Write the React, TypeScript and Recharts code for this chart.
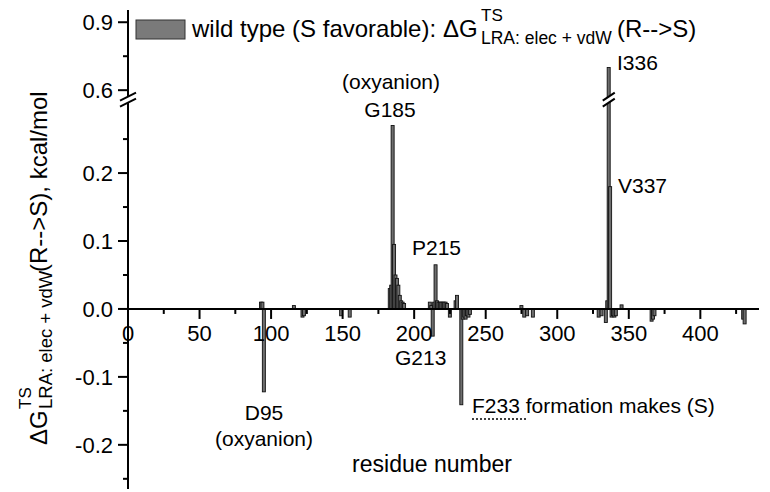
import { Bar, BarChart, Customized, ReferenceDot, ReferenceLine, XAxis, YAxis } from 'recharts';

// residue numbers with a non-zero contribution
const residues = [
    93, 94, 95, 116, 122, 123, 149, 155,
    183, 184, 185, 186, 187, 188, 189, 190, 191, 192, 193,
    211, 212, 213, 214, 215, 216, 217, 218, 219, 220, 221, 222, 223, 225, 229, 230,
    233, 234, 235, 236, 237, 238, 239, 275, 277, 279, 283,
    329, 331, 334, 335, 336, 337, 338, 339, 340, 341, 345, 366, 367, 368, 430, 431,
];

// dG (R-->S), kcal/mol
const dG = [
    0.01, 0.01, -0.122, 0.005, -0.012, -0.01, -0.01, -0.012,
    0.03, 0.035, 0.27, 0.095, 0.05, 0.045, 0.035, 0.02, 0.012, 0.01, 0.008,
    0.01, 0.005, -0.04, 0.01, 0.065, 0.012, 0.01, 0.01, 0.01, 0.01, 0.01, 0.01, 0.008, -0.012, 0.012, 0.02,
    -0.141, -0.015, -0.012, -0.015, -0.01, -0.012, -0.008, 0.005, -0.012, -0.01, -0.012,
    -0.012, -0.01, -0.02, 0.012, 0.7, 0.18, -0.012, -0.01, -0.012, -0.01, 0.006, -0.018, -0.015, -0.01, -0.015, -0.022,
];

const xTicks = [0, 25, 50, 75, 100, 125, 150, 175, 200, 225, 250, 275, 300, 325, 350, 375, 400, 425];
const yTicksLow = [-0.25, -0.2, -0.15, -0.1, -0.05, 0, 0.05, 0.1, 0.15, 0.2, 0.25];
const yTicksHigh = [0.6, 0.75, 0.9];
const yLabels = [-0.2, -0.1, 0, 0.1, 0.2, 0.6, 0.9];

// broken axis: 0.3 .. 0.6 is cut out, upper part squeezed 3x
const BREAK_LO = 0.3;
const BREAK_HI = 0.6;
const HIGH_BASE = 0.322;
const HIGH_SCALE = 1 / 3;
const BREAK_MARK = 0.308;
const toAxis = (v: number) => (v <= BREAK_LO ? v : HIGH_BASE + (v - BREAK_HI) * HIGH_SCALE);
const fromAxis = (t: number) => (t <= BREAK_LO + 0.001 ? t : BREAK_HI + (t - HIGH_BASE) / HIGH_SCALE);

const W = 770;
const H = 492;
const MARGIN = { top: 10, right: 11, bottom: 0, left: 0 };
const Y_W = 128;
const X_H = 3;
const Y_MIN = -0.265;
const Y_MAX = 0.44;
const PLOT_H = H - MARGIN.top - MARGIN.bottom - X_H;
const X_SHIFT = ((0 - Y_MIN) / (Y_MAX - Y_MIN)) * PLOT_H;

const FONT = '"Liberation Sans", Arial, sans-serif';

const data = residues.map((r, i) => ({ residue: r, value: dG[i], plotted: toAxis(dG[i]) }));
const yTicks = [...yTicksLow, ...yTicksHigh.map(toAxis)];

const isLabel = (t: number) => yLabels.some((v) => Math.abs(toAxis(v) - t) < 1e-6);

const YTick = ({ x, y, payload }: any) => {
    const major = isLabel(payload.value);
    return (
        <g>
            <line x1={x} x2={x - (major ? 10 : 5)} y1={y} y2={y} stroke="#000" strokeWidth={2} />
            {major && (
                <text x={x - 15} y={y} dy="0.36em" textAnchor="end" fontSize={22} fontFamily={FONT} fill="#000">
                    {fromAxis(payload.value).toFixed(1)}
                </text>
            )}
        </g>
    );
};

const XTick = ({ x, y, payload }: any) => {
    const yy = y - X_SHIFT;
    const major = payload.value % 50 === 0;
    return (
        <g>
            <line x1={x} x2={x} y1={yy} y2={yy + (major ? 10 : 5)} stroke="#000" strokeWidth={2} />
            {major && (
                <text x={x} y={yy + 32} textAnchor="middle" fontSize={22} fontFamily={FONT} fill="#000">
                    {payload.value}
                </text>
            )}
        </g>
    );
};

const BarShape = ({ x, y, width, height }: any) => {
    const top = Math.min(y, y + height);
    const h = Math.abs(height);
    const cx = x + width / 2;
    return <rect x={cx - 1.5} y={top} width={3} height={h} fill="#6e6e6e" stroke="#111" strokeWidth={0.9} />;
};

const BreakMark = (half: number) => ({ cx, cy }: any) => (
    <g>
        <polygon
            points={`${cx - half},${cy + 1} ${cx + half},${cy - 7} ${cx + half},${cy - 1} ${cx - half},${cy + 7}`}
            fill="#fff"
        />
        <line x1={cx - half} y1={cy + 1} x2={cx + half} y2={cy - 7} stroke="#000" strokeWidth={2} />
        <line x1={cx - half} y1={cy + 7} x2={cx + half} y2={cy - 1} stroke="#000" strokeWidth={2} />
    </g>
);

const Annotations = () => (
    <g fontFamily={FONT} fill="#000">
        {/* legend */}
        <rect x={136} y={20} width={49} height={19} fill="#7a7a7a" stroke="#333" strokeWidth={1} />
        <text x={192} y={37} fontSize={24}>wild type (S favorable):</text>
        <text x={443} y={37} fontSize={24}>ΔG</text>
        <text x={481} y={21} fontSize={17}>TS</text>
        <text x={481} y={44} fontSize={17.5}>LRA: elec + vdW</text>
        <text x={617} y={37} fontSize={24}>(R--&gt;S)</text>

        {/* y axis title */}
        <g transform="translate(47, 0) rotate(-90)">
            <text x={-445} y={0} fontSize={24}>ΔG</text>
            <text x={-409} y={-16} fontSize={17}>TS</text>
            <text x={-409} y={5} fontSize={18.5}>LRA: elec + vdW</text>
            <text x={-272} y={0} fontSize={24}>(R--&gt;S), kcal/mol</text>
        </g>

        {/* x axis title */}
        <text x={432} y={472} fontSize={23} textAnchor="middle">residue number</text>

        {/* residue labels */}
        <text x={391} y={89} fontSize={21} textAnchor="middle">(oxyanion)</text>
        <text x={390} y={117} fontSize={21} textAnchor="middle">G185</text>
        <text x={617} y={70} fontSize={21}>I336</text>
        <text x={618} y={193} fontSize={21}>V337</text>
        <text x={412} y={255} fontSize={21}>P215</text>
        <text x={395} y={365} fontSize={21}>G213</text>
        <text x={264} y={420} fontSize={21} textAnchor="middle">D95</text>
        <text x={264} y={446} fontSize={21} textAnchor="middle">(oxyanion)</text>
        <text x={472} y={413} fontSize={21}>F233 formation makes (S)</text>
        <line x1={472} x2={527} y1={419} y2={419} stroke="#000" strokeWidth={1.5} strokeDasharray="2 2" />
    </g>
);

const App = () => {
    return (
        <div style={{ position: 'absolute', left: 0, top: 0, width: W, height: H, background: '#fff' }}>
            <BarChart width={W} height={H} data={data} margin={MARGIN}>
                <XAxis
                    dataKey="residue"
                    type="number"
                    domain={[0, 441]}
                    allowDataOverflow
                    ticks={xTicks}
                    interval={0}
                    axisLine={false}
                    tickLine={false}
                    tickSize={0}
                    tickMargin={0}
                    height={X_H}
                    tick={XTick}
                />
                <YAxis
                    type="number"
                    domain={[Y_MIN, Y_MAX]}
                    allowDataOverflow
                    ticks={yTicks}
                    interval={0}
                    width={Y_W}
                    axisLine={{ stroke: '#000', strokeWidth: 2 }}
                    tickLine={false}
                    tickSize={0}
                    tickMargin={0}
                    tick={YTick}
                />
                <Bar dataKey="plotted" shape={BarShape} isAnimationActive={false} />
                <ReferenceLine y={0} stroke="#000" strokeWidth={2} />
                <ReferenceDot x={0} y={BREAK_MARK} r={0} ifOverflow="visible" shape={BreakMark(8)} />
                <ReferenceDot x={336} y={BREAK_MARK} r={0} ifOverflow="visible" shape={BreakMark(6)} />
                <Customized component={<Annotations />} />
            </BarChart>
        </div>
    );
};

export default App;
